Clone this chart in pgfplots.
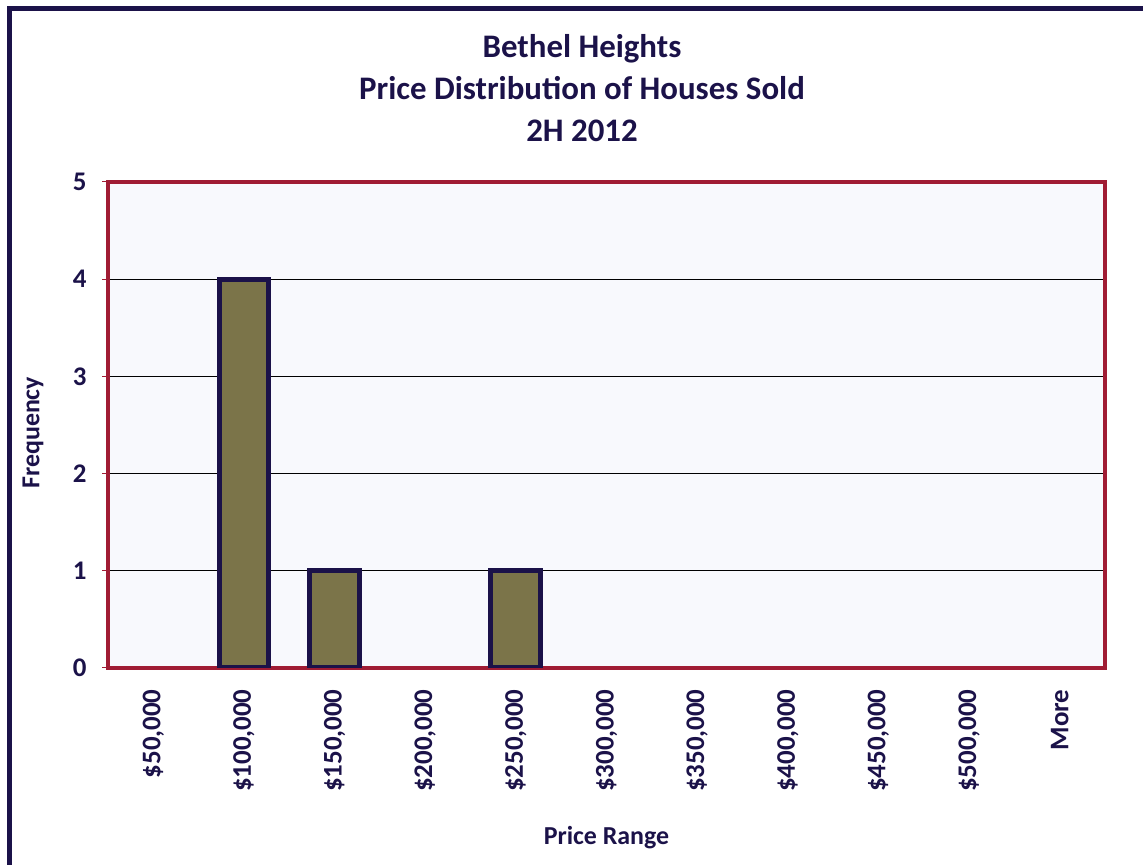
\documentclass[border=0pt]{standalone}
\usepackage{pgfplots}
\pgfplotsset{compat=1.18}
\usepackage{fontspec}
\setmainfont{Carlito}
\definecolor{navy}{HTML}{1B1249}
\definecolor{frame}{HTML}{A01C34}
\definecolor{plotbg}{HTML}{F8F9FD}
\definecolor{olive}{HTML}{7B7449}
\begin{document}
\begin{tikzpicture}[x=1bp,y=1bp]
\useasboundingbox (0,0) rectangle (1143,865);
% outer chart frame (right and bottom edges fall outside the picture)
\draw[navy,line width=5bp] (9,-20) -- (9,856) -- (1170,856);
\node[navy,font=\fontsize{33}{42.5}\selectfont\bfseries,align=center] at (582,777)
  {Bethel Heights\\Price Distribution of Houses Sold\\2H 2012};
\begin{axis}[
  at={(108bp,197bp)},anchor=south west,
  width=997bp,height=486bp,scale only axis,
  ybar,bar width=0.55,
  xmin=-0.5,xmax=10.5,ymin=0,ymax=5,
  xtick={0,...,10},
  xticklabels={{\$50,000},{\$100,000},{\$150,000},{\$200,000},{\$250,000},{\$300,000},{\$350,000},{\$400,000},{\$450,000},{\$500,000},More},
  x tick label style={rotate=90,anchor=east,font=\fontsize{27}{27}\selectfont\bfseries,text=navy},
  ytick={0,1,2,3,4,5},
  y tick label style={font=\fontsize{27}{27}\selectfont\bfseries,text=navy},
  /pgf/number format/assume math mode=true,
  xtick style={draw=none},
  ytick pos=left,
  ytick style={draw=frame,line width=1bp},
  tick align=outside,major tick length=6bp,
  xticklabel shift=12bp,yticklabel shift=12bp,
  ymajorgrids,grid style={black,line width=1bp},
  axis line style={frame,line width=4bp},
  axis background/.style={fill=plotbg},
  xlabel={Price Range},ylabel={Frequency},
  label style={font=\fontsize{26}{26}\selectfont\bfseries,text=navy},
  xlabel style={at={(axis description cs:0.5,-0.348)},anchor=center},
  ylabel style={at={(axis description cs:-0.0752,0.484)},anchor=center,rotate=0},
]
\addplot[draw=navy,fill=olive,line width=5bp] coordinates {
  (1,4) (2,1) (4,1)};
\end{axis}
\end{tikzpicture}
\end{document}
